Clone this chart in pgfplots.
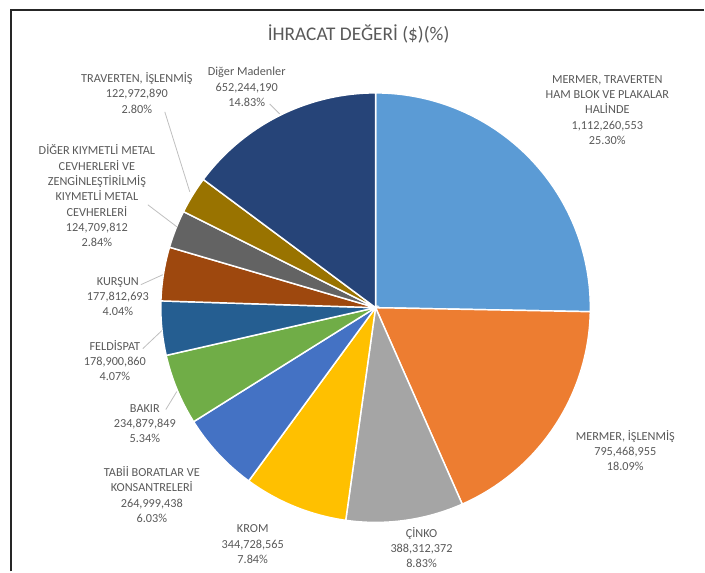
\documentclass[border=0pt]{standalone}
\usepackage{fontspec}
\setmainfont{Carlito}
\usepackage{pgfplots}
\pgfplotsset{compat=1.18}
\definecolor{s1}{HTML}{5B9BD5}
\definecolor{s2}{HTML}{ED7D31}
\definecolor{s3}{HTML}{A5A5A5}
\definecolor{s4}{HTML}{FFC000}
\definecolor{s5}{HTML}{4472C4}
\definecolor{s6}{HTML}{70AD47}
\definecolor{s7}{HTML}{255E91}
\definecolor{s8}{HTML}{9E480E}
\definecolor{s9}{HTML}{636363}
\definecolor{s10}{HTML}{997300}
\definecolor{s11}{HTML}{264478}
\definecolor{txt}{HTML}{595959}
\definecolor{lead}{HTML}{BFBFBF}
% cumulative share (%) at start and end of each slice, clockwise from 12 o'clock
\newcommand{\slice}[3]{%
  \addplot[fill=#3, draw=white, line width=1.1pt, domain={#1*3.6}:{#2*3.6}, samples=80, variable=\t]
   ({376+215*sin(\t)},{-308+215*cos(\t)}) -- (376,-308) -- cycle;}
\tikzset{lab/.style={align=center, font=\fontsize{9.2}{11.5}\selectfont, text=txt, inner sep=0pt}}
\begin{document}
\begin{tikzpicture}
\begin{axis}[scale only axis, width=528.75pt, height=429pt,
  xmin=0, xmax=705, ymin=-572, ymax=0, hide axis, clip=false]
\path (rel axis cs:0,0) rectangle (rel axis cs:1,1);
% frame
\addplot[black!85, line width=1.2pt] coordinates {(11,-572) (11,-10) (705,-10)};
% slices: shares 25.30, 18.09, 8.83, 7.84, 6.03, 5.34, 4.07, 4.04, 2.84, 2.80, 14.83
\slice{0}{25.30}{s1}
\slice{25.30}{43.39}{s2}
\slice{43.39}{52.22}{s3}
\slice{52.22}{60.06}{s4}
\slice{60.06}{66.09}{s5}
\slice{66.09}{71.43}{s6}
\slice{71.43}{75.50}{s7}
\slice{75.50}{79.54}{s8}
\slice{79.54}{82.38}{s9}
\slice{82.38}{85.18}{s10}
\slice{85.18}{100}{s11}
% leader lines
\addplot[lead, line width=0.6pt] coordinates {(165,-112) (190,-192)};
\addplot[lead, line width=0.6pt] coordinates {(148,-205) (177,-227)};
\addplot[lead, line width=0.6pt] coordinates {(141,-285) (163,-275)};
\addplot[lead, line width=0.6pt] coordinates {(143,-349) (162,-331)};
\addplot[lead, line width=0.6pt] coordinates {(166,-410) (177,-392)};
\addplot[lead, line width=0.6pt] coordinates {(270,-104) (280,-114)};
% title
\node[font=\fontsize{14.5}{17}\selectfont, text=txt, inner sep=0pt] at (359,-34) {İHRACAT DEĞERİ (\$)(\%)};
% labels
\node[lab] at (608,-110) {MERMER, TRAVERTEN\\HAM BLOK VE PLAKALAR\\HALİNDE\\1,112,260,553\\25.30\%};
\node[lab] at (626,-451) {MERMER, İŞLENMİŞ\\795,468,955\\18.09\%};
\node[lab] at (422,-548) {ÇİNKO\\388,312,372\\8.83\%};
\node[lab] at (253,-545) {KROM\\344,728,565\\7.84\%};
\node[lab] at (152,-495) {TABİİ BORATLAR VE\\KONSANTRELERİ\\264,999,438\\6.03\%};
\node[lab] at (145,-424) {BAKIR\\234,879,849\\5.34\%};
\node[lab] at (115,-361) {FELDİSPAT\\178,900,860\\4.07\%};
\node[lab] at (118,-297) {KURŞUN\\177,812,693\\4.04\%};
\node[lab] at (97,-196) {DİĞER KIYMETLİ METAL\\CEVHERLERİ VE\\ZENGİNLEŞTİRİLMİŞ\\KIYMETLİ METAL\\CEVHERLERİ\\124,709,812\\2.84\%};
\node[lab] at (137,-93) {TRAVERTEN, İŞLENMİŞ\\122,972,890\\2.80\%};
\node[lab] at (247,-87) {Diğer Madenler\\652,244,190\\14.83\%};
\end{axis}
\end{tikzpicture}
\end{document}
